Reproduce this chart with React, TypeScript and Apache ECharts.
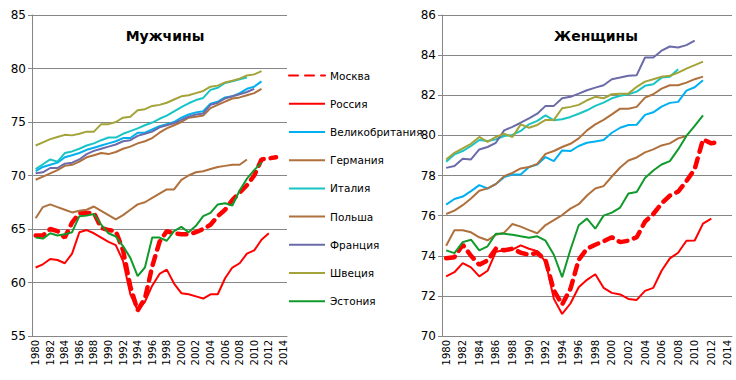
import React, { useEffect, useRef } from "react";
import * as echarts from "echarts";

const years = [
  "1980", "1981", "1982", "1983", "1984", "1985", "1986", "1987", "1988", "1989",
  "1990", "1991", "1992", "1993", "1994", "1995", "1996", "1997", "1998", "1999",
  "2000", "2001", "2002", "2003", "2004", "2005", "2006", "2007", "2008", "2009",
  "2010", "2011", "2012", "2013", "2014",
];

const countries = [
  "Москва", "Россия", "Великобритания", "Германия", "Италия",
  "Польша", "Франция", "Швеция", "Эстония",
];

// Men, life expectancy (years), starting 1980
const menMoscow = [64.4, 64.4, 65.0, 64.8, 64.2, 65.6, 66.5, 66.5, 66.5, 65.1, 64.9, 64.8, 63.0, 59.6, 57.4, 58.5, 61.5, 63.8, 64.8, 64.6, 64.5, 64.5, 64.7, 65.0, 65.4, 66.2, 66.8, 67.7, 68.4, 69.1, 70.0, 71.5, 71.6, 71.7];
const menRussia = [61.4, 61.7, 62.2, 62.1, 61.8, 62.7, 64.7, 64.9, 64.6, 64.2, 63.8, 63.5, 62.0, 58.9, 57.4, 58.2, 59.7, 60.8, 61.2, 59.9, 59.0, 58.9, 58.7, 58.5, 58.9, 58.9, 60.4, 61.4, 61.8, 62.7, 63.0, 64.0, 64.6];
const menUK = [70.4, 70.8, 71.0, 71.2, 71.7, 71.9, 72.1, 72.4, 72.6, 72.8, 73.0, 73.2, 73.5, 73.5, 74.0, 74.0, 74.3, 74.6, 74.8, 75.0, 75.4, 75.7, 75.9, 76.0, 76.7, 76.9, 77.3, 77.4, 77.7, 78.1, 78.3, 78.8];
const menGermany = [69.6, 69.9, 70.2, 70.5, 70.9, 71.0, 71.3, 71.7, 71.9, 72.1, 72.0, 72.2, 72.5, 72.7, 73.0, 73.2, 73.5, 74.0, 74.4, 74.7, 75.0, 75.4, 75.5, 75.6, 76.3, 76.6, 76.9, 77.2, 77.3, 77.5, 77.7, 78.1];
const menItaly = [70.6, 71.05, 71.5, 71.3, 72.1, 72.25, 72.5, 72.8, 73.0, 73.3, 73.55, 73.55, 73.9, 74.15, 74.4, 74.7, 74.95, 75.3, 75.6, 76.0, 76.4, 76.75, 77.05, 77.25, 78.0, 78.2, 78.65, 78.8, 79.0, 79.15];
const menPoland = [66.0, 67.05, 67.3, 67.05, 66.8, 66.55, 66.7, 66.8, 67.1, 66.7, 66.3, 65.9, 66.3, 66.8, 67.3, 67.5, 67.9, 68.3, 68.7, 68.7, 69.6, 70.0, 70.3, 70.4, 70.6, 70.8, 70.9, 71.0, 71.0, 71.5];
const menFrance = [70.2, 70.3, 70.7, 70.7, 71.1, 71.2, 71.5, 72.0, 72.3, 72.5, 72.7, 72.9, 73.2, 73.3, 73.7, 73.9, 74.1, 74.5, 74.7, 74.9, 75.2, 75.5, 75.7, 75.8, 76.6, 76.8, 77.2, 77.4, 77.6, 77.8, 78.1];
const menSweden = [72.8, 73.1, 73.4, 73.6, 73.8, 73.75, 73.9, 74.1, 74.1, 74.8, 74.8, 75.0, 75.4, 75.5, 76.1, 76.2, 76.5, 76.6, 76.8, 77.1, 77.4, 77.5, 77.7, 77.9, 78.3, 78.4, 78.7, 78.85, 79.05, 79.35, 79.45, 79.75];
const menEstonia = [64.2, 64.1, 64.6, 64.4, 64.5, 64.7, 66.2, 66.25, 66.4, 65.4, 64.6, 64.3, 63.4, 62.3, 60.6, 61.4, 64.2, 64.2, 63.9, 64.8, 65.2, 64.7, 65.3, 66.2, 66.5, 67.3, 67.4, 67.2, 68.6, 69.7, 70.5, 71.2];

// Women, life expectancy (years), starting 1980
const womenMoscow = [73.88, 73.93, 74.55, 74.0, 73.55, 73.77, 74.35, 74.27, 74.35, 74.15, 74.05, 74.15, 73.77, 72.27, 71.57, 72.35, 73.8, 74.35, 74.55, 74.72, 74.92, 74.68, 74.75, 74.92, 75.7, 76.08, 76.6, 77.0, 77.2, 77.72, 78.32, 79.8, 79.6, 79.68];
const womenRussia = [72.97, 73.18, 73.63, 73.42, 72.97, 73.25, 74.2, 74.27, 74.3, 74.52, 74.35, 74.23, 73.7, 71.85, 71.1, 71.62, 72.43, 72.8, 73.08, 72.4, 72.15, 72.07, 71.85, 71.8, 72.25, 72.4, 73.25, 73.87, 74.15, 74.75, 74.76, 75.6, 75.85];
const womenUK = [76.55, 76.83, 76.95, 77.22, 77.52, 77.35, 77.58, 77.92, 78.05, 78.05, 78.42, 78.55, 78.92, 78.72, 79.25, 79.22, 79.47, 79.63, 79.7, 79.77, 80.13, 80.38, 80.52, 80.53, 81.02, 81.15, 81.43, 81.62, 81.67, 82.23, 82.4, 82.75];
const womenGermany = [76.08, 76.25, 76.52, 76.85, 77.24, 77.36, 77.57, 77.97, 78.13, 78.35, 78.42, 78.58, 79.08, 79.22, 79.42, 79.58, 79.85, 80.25, 80.55, 80.77, 81.05, 81.33, 81.33, 81.42, 81.88, 82.05, 82.33, 82.5, 82.5, 82.63, 82.8, 82.93];
const womenItaly = [78.68, 79.05, 79.22, 79.47, 79.77, 79.72, 79.8, 79.97, 80.02, 80.22, 80.55, 80.72, 81.0, 80.75, 80.8, 80.92, 81.08, 81.25, 81.47, 81.63, 81.85, 81.97, 82.05, 82.18, 82.47, 82.55, 82.88, 82.92, 83.3];
const womenPoland = [74.5, 75.27, 75.27, 75.17, 74.92, 74.77, 75.05, 75.15, 75.58, 75.45, 75.28, 75.12, 75.53, 75.78, 76.03, 76.35, 76.57, 77.0, 77.35, 77.47, 77.95, 78.4, 78.75, 78.9, 79.15, 79.3, 79.5, 79.6, 79.85, 79.97];
const womenFrance = [78.38, 78.47, 78.83, 78.8, 79.3, 79.42, 79.63, 80.25, 80.42, 80.63, 80.85, 81.08, 81.47, 81.47, 81.85, 81.92, 82.08, 82.25, 82.38, 82.5, 82.8, 82.88, 82.97, 83.0, 83.88, 83.88, 84.22, 84.43, 84.38, 84.5, 84.72];
const womenSweden = [78.8, 79.13, 79.35, 79.58, 79.92, 79.68, 79.92, 80.08, 79.92, 80.55, 80.38, 80.52, 80.77, 80.77, 81.35, 81.42, 81.52, 81.75, 81.92, 81.85, 82.05, 82.08, 82.08, 82.42, 82.68, 82.8, 82.92, 82.97, 83.13, 83.33, 83.5, 83.68];
const womenEstonia = [74.27, 74.13, 74.68, 74.8, 74.27, 74.47, 75.1, 75.1, 75.05, 74.97, 74.9, 74.97, 74.75, 74.05, 72.93, 74.3, 75.52, 75.85, 75.35, 76.0, 76.15, 76.4, 77.1, 77.18, 77.88, 78.25, 78.55, 78.72, 79.3, 79.97, 80.47, 81.0];

const menData = [menMoscow, menRussia, menUK, menGermany, menItaly, menPoland, menFrance, menSweden, menEstonia];
const womenData = [womenMoscow, womenRussia, womenUK, womenGermany, womenItaly, womenPoland, womenFrance, womenSweden, womenEstonia];

const colors = ["#FF0000", "#FF0000", "#00B0F0", "#B0703C", "#18C4C4", "#B0703C", "#6B6BAA", "#A3A33A", "#109A2C"];

const FONT = "DejaVu Sans";
const GRID_COLOR = "#868686";

function makeSeries(idx: number, data: number[], axis: number) {
  const isMoscow = idx === 0;
  return {
    name: countries[idx],
    type: "line",
    xAxisIndex: axis,
    yAxisIndex: axis,
    data,
    symbol: "none",
    showSymbol: false,
    smooth: false,
    silent: true,
    lineStyle: isMoscow
      ? { color: colors[idx], width: 4.5, type: [9, 7], cap: "round" }
      : { color: colors[idx], width: 2 },
    itemStyle: { color: colors[idx] },
    emphasis: { disabled: true },
  };
}

function xAxis(gridIndex: number) {
  return {
    gridIndex,
    type: "category",
    data: years,
    boundaryGap: true,
    axisLine: { lineStyle: { color: GRID_COLOR, width: 1 } },
    axisTick: { interval: 0, length: 5, lineStyle: { color: GRID_COLOR } },
    axisLabel: {
      interval: 1,
      rotate: 90,
      fontSize: 10,
      fontFamily: FONT,
      color: "#000",
      margin: 4,
    },
    splitLine: { show: false },
  };
}

function yAxis(gridIndex: number, min: number, max: number, interval: number) {
  return {
    gridIndex,
    type: "value",
    min,
    max,
    interval,
    axisLine: { show: true, lineStyle: { color: GRID_COLOR, width: 1 } },
    axisTick: { show: true, length: 4, lineStyle: { color: GRID_COLOR } },
    axisLabel: { fontSize: 12, fontFamily: FONT, color: "#000", margin: 6 },
    splitLine: { show: true, lineStyle: { color: GRID_COLOR, width: 1 } },
  };
}

export default function App() {
  const ref = useRef<HTMLDivElement>(null);

  useEffect(() => {
    if (!ref.current) return;
    const chart = echarts.init(ref.current, null, { renderer: "svg" });
    const series: any[] = [];
    menData.forEach((d, i) => series.push(makeSeries(i, d, 0)));
    womenData.forEach((d, i) => series.push(makeSeries(i, d, 1)));

    chart.setOption({
      animation: false,
      backgroundColor: "#ffffff",
      textStyle: { fontFamily: FONT },
      title: [
        {
          text: "Мужчины",
          left: 160,
          top: 24,
          textAlign: "center",
          textStyle: { fontSize: 14, fontWeight: "bold", color: "#000", fontFamily: FONT },
        },
        {
          text: "Женщины",
          left: 591,
          top: 24,
          textAlign: "center",
          textStyle: { fontSize: 14, fontWeight: "bold", color: "#000", fontFamily: FONT },
        },
      ],
      legend: {
        orient: "vertical",
        left: 288,
        top: 70,
        itemWidth: 36,
        itemHeight: 14,
        itemGap: 17,
        padding: 0,
        selectedMode: false,
        itemStyle: { opacity: 0, borderWidth: 0 },
        textStyle: { fontSize: 10.5, color: "#000", fontFamily: FONT },
        data: countries,
      },
      grid: [
        { left: 32, right: 449, top: 15, bottom: 44 },
        { left: 442, right: 4, top: 15, bottom: 44 },
      ],
      xAxis: [xAxis(0), xAxis(1)],
      yAxis: [yAxis(0, 55, 85, 5), yAxis(1, 70, 86, 2)],
      series,
    });
    return () => chart.dispose();
  }, []);

  return (
    <div
      ref={ref}
      style={{ position: "fixed", left: 0, top: 0, width: 736, height: 380 }}
    />
  );
}
